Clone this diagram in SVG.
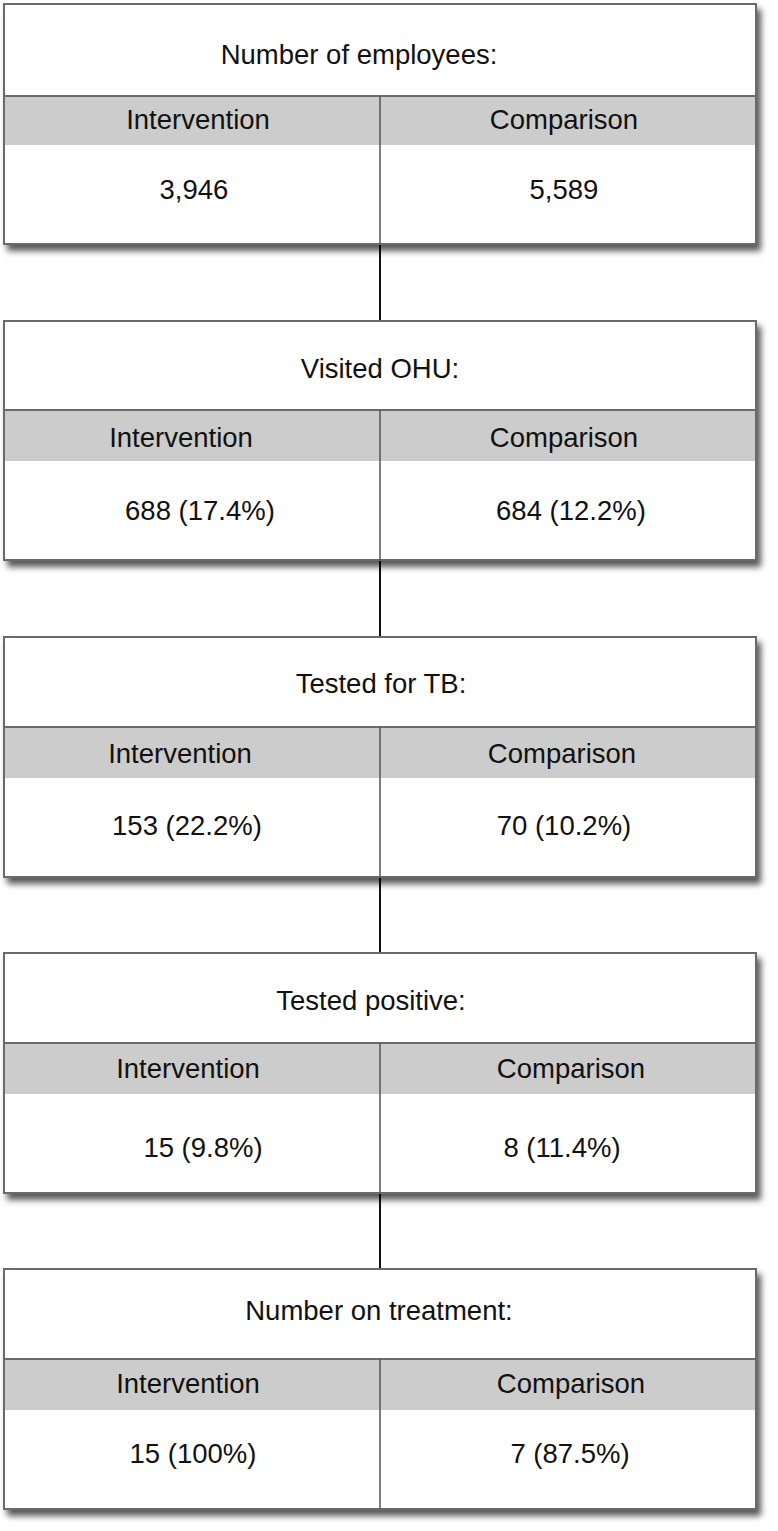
<svg xmlns="http://www.w3.org/2000/svg" width="778" height="1531" viewBox="0 0 778 1531">
  <defs>
    <filter id="shadow" x="-5%" y="-5%" width="115%" height="120%">
      <feDropShadow dx="4" dy="6" stdDeviation="3" flood-color="#000" flood-opacity="0.65"/>
    </filter>
  </defs>
  <style>
    .box { fill: #ffffff; stroke: #6b6b6b; stroke-width: 2; filter: url(#shadow); }
    .band { fill: #cccccc; }
    .hline { stroke: #6b6b6b; stroke-width: 2; }
    .div { stroke: #555555; stroke-width: 1.5; }
    .conn { stroke: #111111; stroke-width: 2; }
    text { font-family: "Liberation Sans", Arial, Helvetica, sans-serif; font-size: 27.5px; fill: #111111; text-anchor: middle; }
  </style>
  <rect width="778" height="1531" fill="#ffffff"/>

  <g id="connectors">
    <line class="conn" x1="380" y1="244" x2="380" y2="321"/>
    <line class="conn" x1="380" y1="560" x2="380" y2="637"/>
    <line class="conn" x1="380" y1="877" x2="380" y2="953"/>
    <line class="conn" x1="380" y1="1193" x2="380" y2="1269"/>
  </g>

  <g id="node-employees">
    <rect class="box" x="4" y="4" width="752" height="240"/>
    <rect class="band" x="5" y="96" width="750" height="49"/>
    <line class="hline" x1="4" y1="96" x2="756" y2="96"/>
    <line class="div" x1="380" y1="96" x2="380" y2="244"/>
    <text x="359" y="64">Number of employees:</text>
    <text x="198" y="129">Intervention</text>
    <text x="564" y="129">Comparison</text>
    <text x="194" y="199">3,946</text>
    <text x="564" y="199">5,589</text>
  </g>

  <g id="node-visited">
    <rect class="box" x="4" y="321" width="752" height="239"/>
    <rect class="band" x="5" y="410" width="750" height="51"/>
    <line class="hline" x1="4" y1="410" x2="756" y2="410"/>
    <line class="div" x1="380" y1="410" x2="380" y2="560"/>
    <text x="380" y="378">Visited OHU:</text>
    <text x="181" y="447">Intervention</text>
    <text x="564" y="447">Comparison</text>
    <text x="200" y="520">688 (17.4%)</text>
    <text x="571" y="520">684 (12.2%)</text>
  </g>

  <g id="node-tested">
    <rect class="box" x="4" y="637" width="752" height="240"/>
    <rect class="band" x="5" y="727" width="750" height="51"/>
    <line class="hline" x1="4" y1="727" x2="756" y2="727"/>
    <line class="div" x1="380" y1="727" x2="380" y2="877"/>
    <text x="381" y="693">Tested for TB:</text>
    <text x="180" y="763">Intervention</text>
    <text x="562" y="763">Comparison</text>
    <text x="187" y="835">153 (22.2%)</text>
    <text x="564" y="835">70 (10.2%)</text>
  </g>

  <g id="node-positive">
    <rect class="box" x="4" y="953" width="752" height="240"/>
    <rect class="band" x="5" y="1043" width="750" height="51"/>
    <line class="hline" x1="4" y1="1043" x2="756" y2="1043"/>
    <line class="div" x1="380" y1="1043" x2="380" y2="1193"/>
    <text x="371" y="1010">Tested positive:</text>
    <text x="188" y="1078">Intervention</text>
    <text x="571" y="1078">Comparison</text>
    <text x="203" y="1157">15 (9.8%)</text>
    <text x="562" y="1157">8 (11.4%)</text>
  </g>

  <g id="node-treatment">
    <rect class="box" x="4" y="1269" width="752" height="240"/>
    <rect class="band" x="5" y="1359" width="750" height="51"/>
    <line class="hline" x1="4" y1="1359" x2="756" y2="1359"/>
    <line class="div" x1="380" y1="1359" x2="380" y2="1509"/>
    <text x="379" y="1320">Number on treatment:</text>
    <text x="188" y="1393">Intervention</text>
    <text x="571" y="1393">Comparison</text>
    <text x="193" y="1463">15 (100%)</text>
    <text x="570" y="1463">7 (87.5%)</text>
  </g>
</svg>
